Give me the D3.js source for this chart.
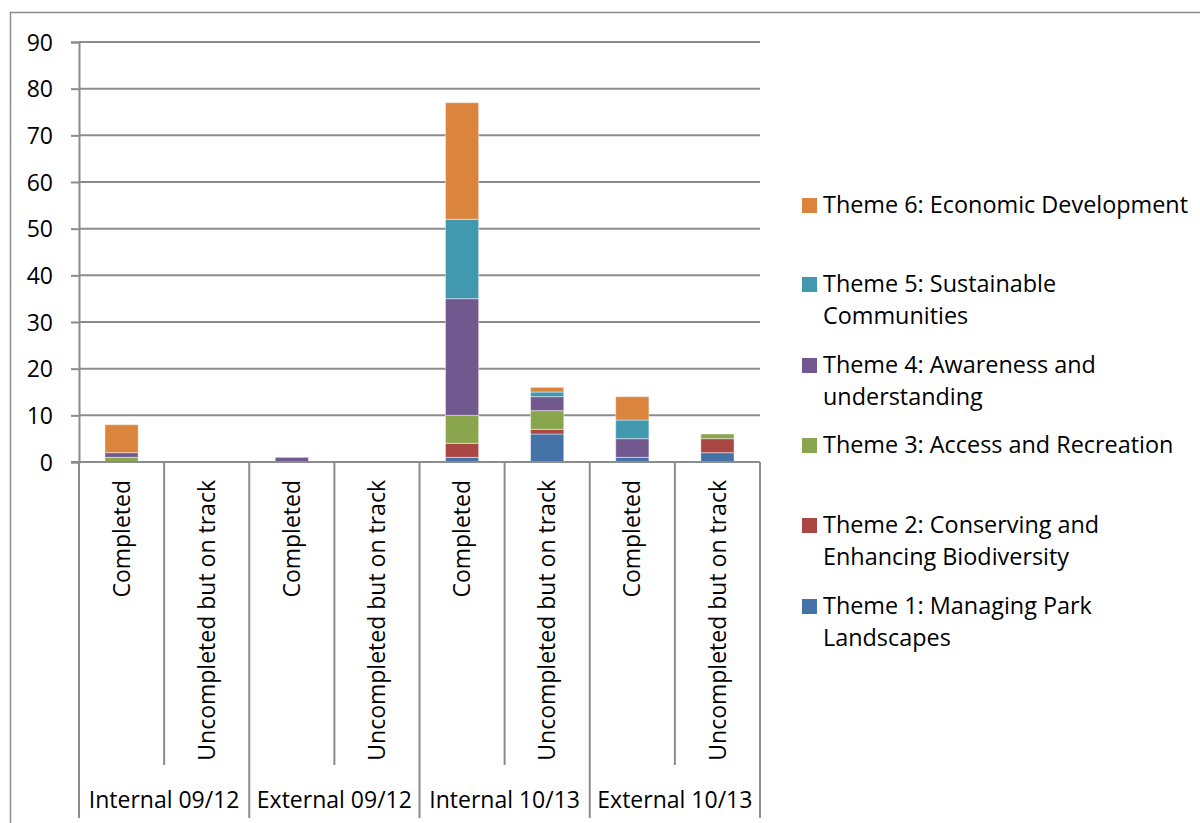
<!DOCTYPE html>
<html><head><meta charset="utf-8">
<script src="https://cdn.jsdelivr.net/npm/d3@7"></script>
<style>body{margin:0;background:#fff}svg{display:block}text{font-family:"Open Sans",sans-serif;fill:#000}</style>
</head><body><svg id="c" width="1200" height="823"></svg>
<script>
const groups = ["Internal 09/12","External 09/12","Internal 10/13","External 10/13"];
const statuses = ["Completed","Uncompleted but on track"];
const themes = ["Theme 1: Managing Park Landscapes","Theme 2: Conserving and Enhancing Biodiversity","Theme 3: Access and Recreation","Theme 4: Awareness and understanding","Theme 5: Sustainable Communities","Theme 6: Economic Development"];
const legendLines = [["Theme 1: Managing Park","Landscapes"],["Theme 2: Conserving and","Enhancing Biodiversity"],["Theme 3: Access and Recreation"],["Theme 4: Awareness and","understanding"],["Theme 5: Sustainable","Communities"],["Theme 6: Economic Development"]];
const colors = ["#4572A7","#AA4643","#89A54E","#71588F","#4198AF","#DB843D"];
// values per bar (8 bars: group x status), one array per theme
const theme1 = [0,0,0,0,1,6,1,2];
const theme2 = [0,0,0,0,3,1,0,3];
const theme3 = [1,0,0,0,6,4,0,1];
const theme4 = [1,0,1,0,25,3,4,0];
const theme5 = [0,0,0,0,17,1,4,0];
const theme6 = [6,0,0,0,25,1,5,0];
const yTicks = [0,10,20,30,40,50,60,70,80,90];

const series = [theme1,theme2,theme3,theme4,theme5,theme6];
const bars = [];
groups.forEach((g,gi)=>statuses.forEach((s,si)=>{
  const i = gi*2+si; const row={key:g+"|"+s,group:g,status:s};
  themes.forEach((t,ti)=>row[t]=series[ti][i]); bars.push(row);
}));

const svg = d3.select("#c");
const L=79,R=760,T=42,B=462;
const x = d3.scaleBand().domain(bars.map(d=>d.key)).range([L,R]).paddingInner(0.61).paddingOuter(0.305);
const xb = d3.scaleBand().domain(bars.map(d=>d.key)).range([L,R]);
const y = d3.scaleLinear().domain([0,90]).range([B,T]);
const grey="#8c8c8c";
const fs="23px";

// outer border
svg.append("path").attr("d","M10.5,823 V12.5 H1200").attr("fill","none").attr("stroke",grey).attr("stroke-width",1.5);

// gridlines
svg.append("g").selectAll("line").data(yTicks.filter(v=>v>0)).join("line")
  .attr("x1",L).attr("x2",R).attr("y1",d=>y(d)).attr("y2",d=>y(d)).attr("stroke",grey).attr("stroke-width",2);

// y axis
const ya = svg.append("g").attr("transform",`translate(${L},0)`).call(d3.axisLeft(y).tickValues(yTicks).tickSize(8).tickPadding(18));
ya.select(".domain").attr("stroke",grey).attr("stroke-width",2);
ya.selectAll(".tick line").attr("stroke",grey).attr("stroke-width",2);
ya.selectAll("text").style("font-size",fs).attr("dy","0.35em");

// stacked bars
const stack = d3.stack().keys(themes)(bars);
svg.append("g").selectAll("g").data(stack).join("g").attr("fill",(d,i)=>colors[i])
  .selectAll("rect").data(d=>d).join("rect")
  .attr("x",d=>x(d.data.key)).attr("width",x.bandwidth())
  .attr("y",d=>y(d[1])).attr("height",d=>y(d[0])-y(d[1]))
  .attr("stroke","rgba(255,255,255,0.45)").attr("stroke-width",d=>(d[1]-d[0])>0?1:0);

// x axis line
svg.append("line").attr("x1",L-8).attr("x2",R).attr("y1",B).attr("y2",B).attr("stroke",grey).attr("stroke-width",2);
// separators
const seps = d3.range(0,9);
svg.append("g").selectAll("line").data(seps).join("line")
  .attr("x1",i=>L+i*xb.step()).attr("x2",i=>L+i*xb.step())
  .attr("y1",B).attr("y2",i=>i%2===0?818:765).attr("stroke",grey).attr("stroke-width",2);

// category labels
svg.append("g").selectAll("text").data(bars).join("text")
  .attr("transform",d=>`translate(${xb(d.key)+xb.bandwidth()/2},480) rotate(-90)`)
  .attr("text-anchor","end").attr("dy","0.35em").style("font-size",fs).text(d=>d.status);

// group labels
svg.append("g").selectAll("text").data(groups).join("text")
  .attr("x",(g,gi)=>L+(gi*2+1)*xb.step()).attr("y",808).attr("text-anchor","middle")
  .style("font-size",fs).text(d=>d);

// legend
const legTops=[606,525,445,365,284,205];
const lg = svg.append("g");
themes.forEach((t,i)=>{
  lg.append("rect").attr("x",802).attr("y",legTops[i]-7).attr("width",15).attr("height",15).attr("fill",colors[i]);
  legendLines[i].forEach((ln,j)=>lg.append("text").attr("x",823).attr("y",legTops[i]+j*32).attr("dy","0.35em").style("font-size","23.4px").text(ln));
});
</script></body></html>
